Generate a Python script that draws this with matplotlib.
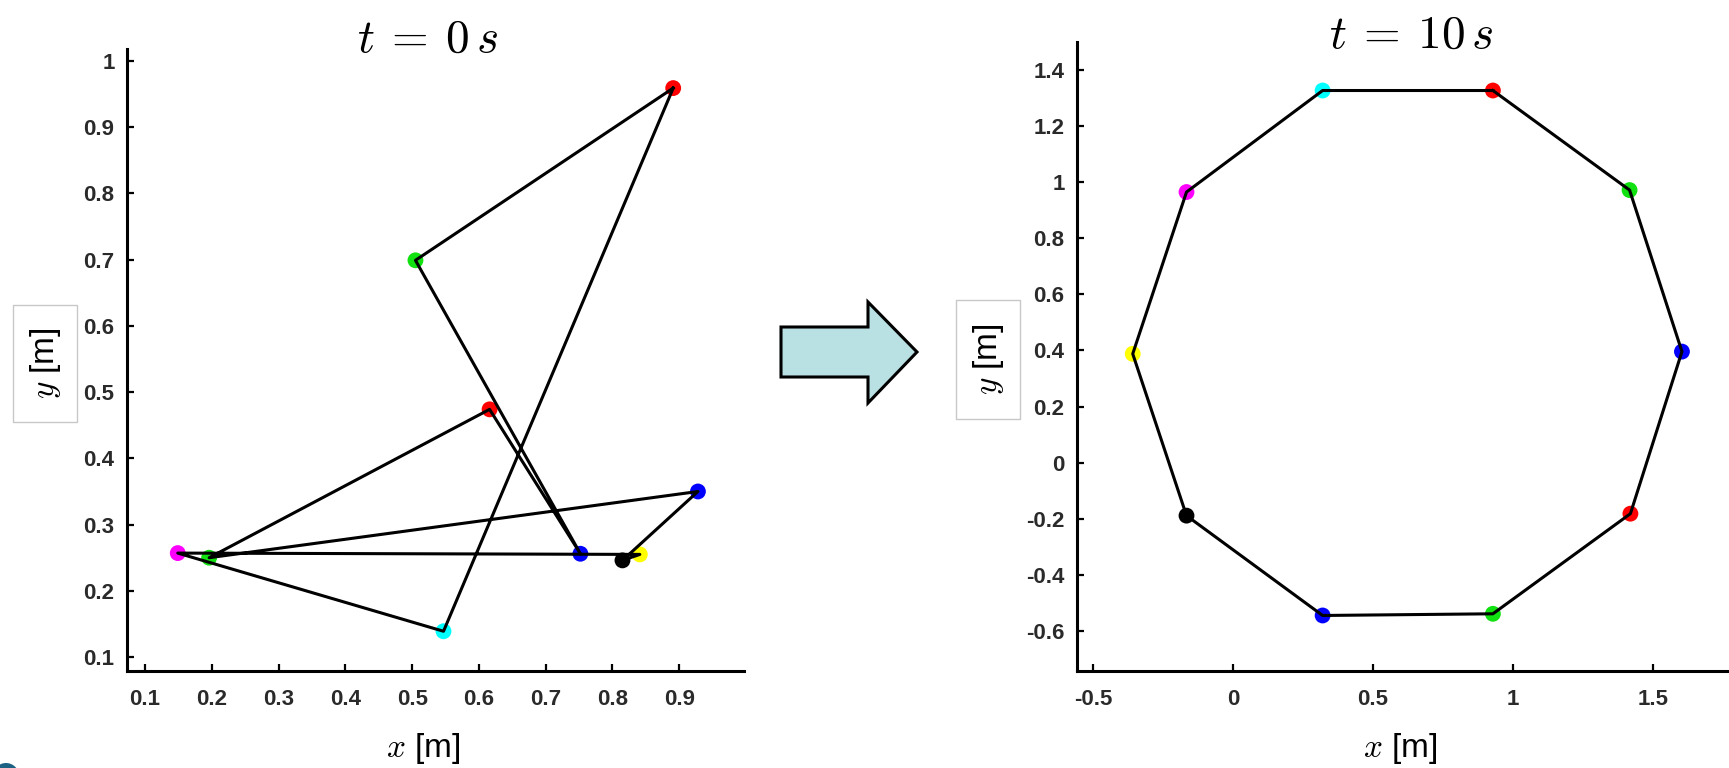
import numpy as np
import matplotlib
matplotlib.use('Agg')
import matplotlib.pyplot as plt
from matplotlib.patches import Polygon, Rectangle, Circle

plt.rcParams['font.family'] = ['Liberation Sans', 'DejaVu Sans']
plt.rcParams['mathtext.fontset'] = 'cm'
plt.rcParams['axes.unicode_minus'] = False

# agent colours, in ring order (same ring at both times)
agentColors = ['#ff0000', '#11e011', '#0000ff', '#ff0000', '#11e011',
               '#0000ff', '#000000', '#ffff00', '#ff00ff', '#00ffff']

# positions at t = 0 s
x0 = [0.891, 0.505, 0.752, 0.616, 0.196, 0.928, 0.815, 0.841, 0.149, 0.547]
y0 = [0.959, 0.699, 0.256, 0.474, 0.250, 0.350, 0.246, 0.255, 0.257, 0.139]

# positions at t = 10 s
x10 = [0.928, 1.416, 1.603, 1.419, 0.928, 0.320, -0.166, -0.358, -0.166, 0.320]
y10 = [1.327, 0.972, 0.396, -0.182, -0.539, -0.545, -0.189, 0.388, 0.965, 1.327]

xticks0 = [0.1, 0.2, 0.3, 0.4, 0.5, 0.6, 0.7, 0.8, 0.9]
yticks0 = [0.1, 0.2, 0.3, 0.4, 0.5, 0.6, 0.7, 0.8, 0.9, 1.0]
xticks10 = [-0.5, 0, 0.5, 1, 1.5]
yticks10 = [-0.6, -0.4, -0.2, 0, 0.2, 0.4, 0.6, 0.8, 1.0, 1.2, 1.4]

W, H = 1729, 768
fig = plt.figure(figsize=(W / 100, H / 100), dpi=100)

# overlay in pixel coordinates for the decorations (arrow, label boxes)
deco = fig.add_axes([0, 0, 1, 1], zorder=-1)
deco.set_xlim(0, W)
deco.set_ylim(H, 0)
deco.axis('off')


def drawRing(ax, xs, ys, xlim, ylim, xticks, yticks):
    xs = np.array(xs)
    ys = np.array(ys)
    ax.scatter(xs, ys, s=130, c=agentColors, linewidths=0, zorder=2)
    ax.plot(np.append(xs, xs[0]), np.append(ys, ys[0]), color='black', lw=2.2, zorder=3)
    ax.set_xlim(xlim)
    ax.set_ylim(ylim)
    ax.set_xticks(xticks)
    ax.set_yticks(yticks)
    ax.set_xticklabels(['%g' % v for v in xticks], fontweight='bold')
    ax.set_yticklabels(['%g' % v for v in yticks], fontweight='bold')
    for side in ['top', 'right']:
        ax.spines[side].set_visible(False)
    for side in ['left', 'bottom']:
        ax.spines[side].set_linewidth(2.2)
    ax.tick_params(direction='in', length=5, width=1.6, labelsize=16, labelcolor='#2a2a2a')
    ax.tick_params(axis='x', pad=13)
    ax.tick_params(axis='y', pad=9)
    ax.set_facecolor('none')


ax1 = fig.add_axes([127 / W, 97 / H, 617 / W, 622 / H])
drawRing(ax1, x0, y0, (0.073, 0.997), (0.079, 1.018), xticks0, yticks0)

ax2 = fig.add_axes([1077 / W, 97 / H, 652 / W, 629 / H])
drawRing(ax2, x10, y10, (-0.557, 1.771), (-0.743, 1.50), xticks10, yticks10)

# titles
fig.text(428 / W, 1 - 52 / H, r'$t\:=\:0\,s$', fontsize=34, ha='center', va='baseline')
fig.text(1411 / W, 1 - 48 / H, r'$t\:=\:10\,s$', fontsize=34, ha='center', va='baseline')

# x labels
fig.text(423 / W, 1 - 748 / H, r'$x$ [m]', fontsize=24, ha='center', va='center')
fig.text(1400 / W, 1 - 748 / H, r'$x$ [m]', fontsize=24, ha='center', va='center')

# y labels in light boxes
for bx, by, bw, bh in [(13, 305, 64, 117), (956, 300, 64, 119)]:
    deco.add_patch(Rectangle((bx, by), bw, bh, fc='white', ec='#c8c8c8', lw=1))
    deco.text(bx + bw / 2 + 1, by + bh / 2, r'$y$ [m]', fontsize=24, rotation=90,
              ha='center', va='center')

# arrow between the two panels
arrowPts = [(781, 327), (868, 327), (868, 302), (917, 352), (868, 403), (868, 377), (781, 377)]
deco.add_patch(Polygon(arrowPts, closed=True, fc='#b9e0e3', ec='black', lw=2.2))

# small round mark in the bottom corner
deco.add_patch(Circle((6, 776), 13, fc='#1d6283', ec='none'))

fig.savefig('out.png', dpi=100)
